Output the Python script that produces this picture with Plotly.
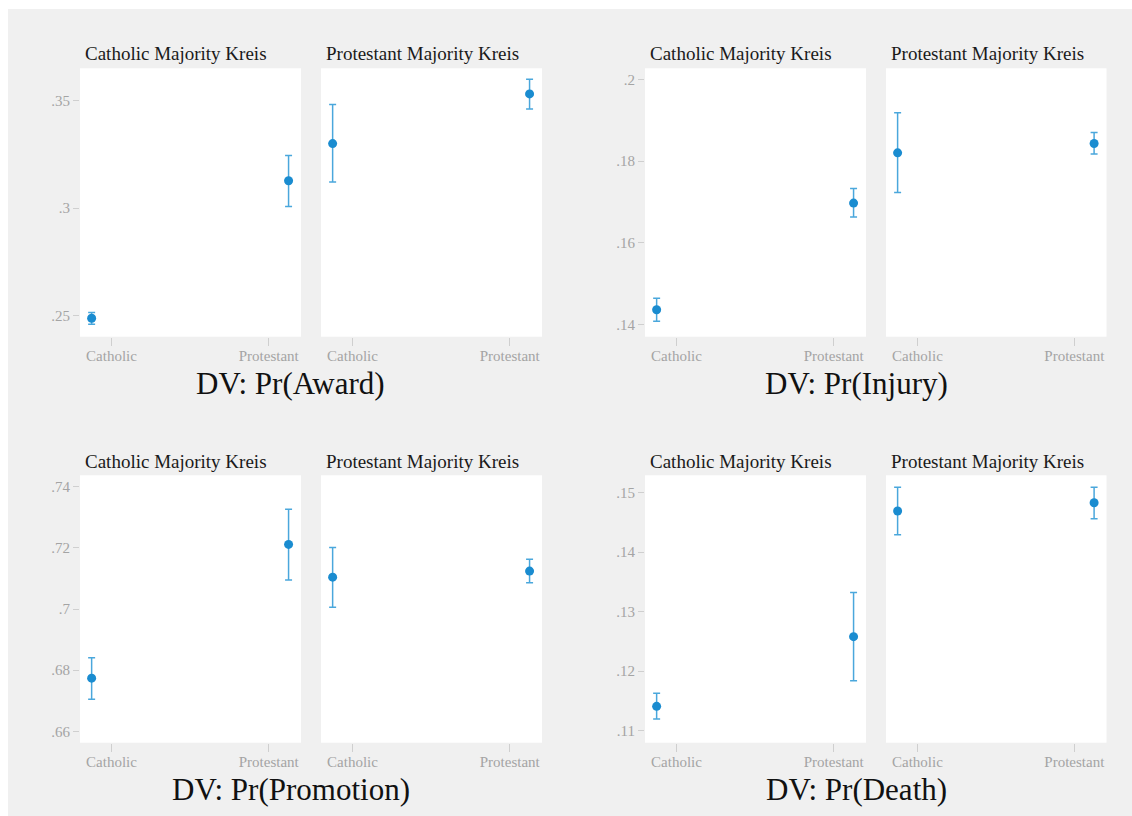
import plotly.graph_objects as go

W, H = 1132, 816

# ---------------- data ----------------
categories = ["Catholic", "Protestant"]
panel_titles = ["Catholic Majority Kreis", "Protestant Majority Kreis"]
dv_titles = ["DV: Pr(Award)", "DV: Pr(Injury)", "DV: Pr(Promotion)", "DV: Pr(Death)"]

# point estimates: [catholic-majority panel, protestant-majority panel] x [Catholic, Protestant]
award_est = [[0.2488, 0.3127], [0.3300, 0.3531]]
award_lo = [[0.2460, 0.3007], [0.3121, 0.3461]]
award_hi = [[0.2514, 0.3245], [0.3482, 0.3599]]

injury_est = [[0.1436, 0.1697], [0.1820, 0.1843]]
injury_lo = [[0.1408, 0.1663], [0.1723, 0.1817]]
injury_hi = [[0.1464, 0.1733], [0.1918, 0.1870]]

promo_est = [[0.6774, 0.7211], [0.7104, 0.7124]]
promo_lo = [[0.6705, 0.7095], [0.7006, 0.7086]]
promo_hi = [[0.6841, 0.7326], [0.7201, 0.7163]]

death_est = [[0.1141, 0.1258], [0.1469, 0.1483]]
death_lo = [[0.1120, 0.1184], [0.1429, 0.1456]]
death_hi = [[0.1163, 0.1332], [0.1509, 0.1509]]

award_ticks = [0.25, 0.30, 0.35]
award_ticktext = [".25", ".3", ".35"]
injury_ticks = [0.14, 0.16, 0.18, 0.20]
injury_ticktext = [".14", ".16", ".18", ".2"]
promo_ticks = [0.66, 0.68, 0.70, 0.72, 0.74]
promo_ticktext = [".66", ".68", ".7", ".72", ".74"]
death_ticks = [0.11, 0.12, 0.13, 0.14, 0.15]
death_ticktext = [".11", ".12", ".13", ".14", ".15"]

# ---------------- style / layout ----------------
cat_pos = [0, 1]
shift = [-0.126, 0.126]
xrange_ = [-0.2, 1.205]
yranges = [[0.2402, 0.365], [0.137, 0.2027], [0.6563, 0.7437], [0.108, 0.1529]]

MARKER = "#1a8cd0"
ERR = "#4aa7dc"
TICKFONT = dict(family="Liberation Serif", size=15, color="#a4a4a4")
TICKCOL = "#cfcfcf"


def fx(px):
    return px / W


def fy(py):
    return 1 - py / H


groups = [
    dict(est=award_est, lo=award_lo, hi=award_hi, ticks=award_ticks, tt=award_ticktext,
         px=[(80, 301), (321, 542)], py=(68.3, 336.7), title_x=290.5, title_y=383, ptitle_y=54),
    dict(est=injury_est, lo=injury_lo, hi=injury_hi, ticks=injury_ticks, tt=injury_ticktext,
         px=[(645, 866), (886, 1106.5)], py=(68.3, 336.7), title_x=856, title_y=383, ptitle_y=54),
    dict(est=promo_est, lo=promo_lo, hi=promo_hi, ticks=promo_ticks, tt=promo_ticktext,
         px=[(80, 301), (321, 542)], py=(475.3, 742.7), title_x=290.5, title_y=789, ptitle_y=461),
    dict(est=death_est, lo=death_lo, hi=death_hi, ticks=death_ticks, tt=death_ticktext,
         px=[(645, 866), (886, 1106.5)], py=(475.3, 742.7), title_x=856, title_y=789, ptitle_y=461),
]

fig = go.Figure()
layout = {}
annotations = []
idx = 0
for g, grp in enumerate(groups):
    ydom = [fy(grp["py"][1]), fy(grp["py"][0])]
    for p in range(2):
        idx += 1
        sfx = "" if idx == 1 else str(idx)
        xa, ya = "xaxis" + sfx, "yaxis" + sfx
        x0, x1 = grp["px"][p]
        layout[xa] = dict(
            domain=[fx(x0), fx(x1)], range=xrange_, anchor="y" + sfx,
            tickvals=cat_pos, ticktext=categories, ticks="outside", ticklen=8,
            tickcolor=TICKCOL, tickwidth=1, tickfont=TICKFONT, ticklabelstandoff=-3,
            showgrid=False, zeroline=False, showline=False, fixedrange=True,
        )
        layout[ya] = dict(
            domain=ydom, range=yranges[g], anchor="x" + sfx,
            tickvals=grp["ticks"], ticktext=grp["tt"],
            ticks="outside" if p == 0 else "", ticklen=6, tickcolor=TICKCOL, tickwidth=1,
            showticklabels=(p == 0), tickfont=TICKFONT,
            showgrid=False, zeroline=False, showline=False, fixedrange=True,
        )
        est = grp["est"][p]
        lo = grp["lo"][p]
        hi = grp["hi"][p]
        fig.add_trace(go.Scatter(
            x=[cat_pos[i] + shift[i] for i in range(2)], y=est,
            mode="markers",
            marker=dict(color=MARKER, size=9),
            error_y=dict(type="data", symmetric=False,
                         array=[hi[i] - est[i] for i in range(2)],
                         arrayminus=[est[i] - lo[i] for i in range(2)],
                         color=ERR, thickness=1.5, width=3.5),
            xaxis="x" + sfx, yaxis="y" + sfx, showlegend=False,
        ))
        annotations.append(dict(
            text=panel_titles[p], x=fx(x0 + 3), y=fy(grp["ptitle_y"]),
            xref="paper", yref="paper", xanchor="left", yanchor="middle",
            showarrow=False, font=dict(family="Liberation Serif", size=19, color="#1a1a1a"),
        ))
    annotations.append(dict(
        text=dv_titles[g], x=fx(grp["title_x"]), y=fy(grp["title_y"]),
        xref="paper", yref="paper", xanchor="center", yanchor="middle",
        showarrow=False, font=dict(family="Liberation Serif", size=31, color="#111111"),
    ))

fig.update_layout(
    width=W, height=H,
    margin=dict(l=0, r=0, t=0, b=0),
    paper_bgcolor="#f0f0f0", plot_bgcolor="white",
    annotations=annotations,
    shapes=[
        dict(type="rect", xref="paper", yref="paper", x0=0, x1=1, y0=fy(9), y1=1,
             fillcolor="white", line=dict(width=0), layer="below"),
        dict(type="rect", xref="paper", yref="paper", x0=0, x1=fx(8), y0=0, y1=1,
             fillcolor="white", line=dict(width=0), layer="below"),
    ],
    showlegend=False,
    **layout,
)

fig.write_html(
    "out.html",
    config={"displayModeBar": False},
    post_script="document.body.style.margin='0';document.body.style.overflow='hidden';",
)
